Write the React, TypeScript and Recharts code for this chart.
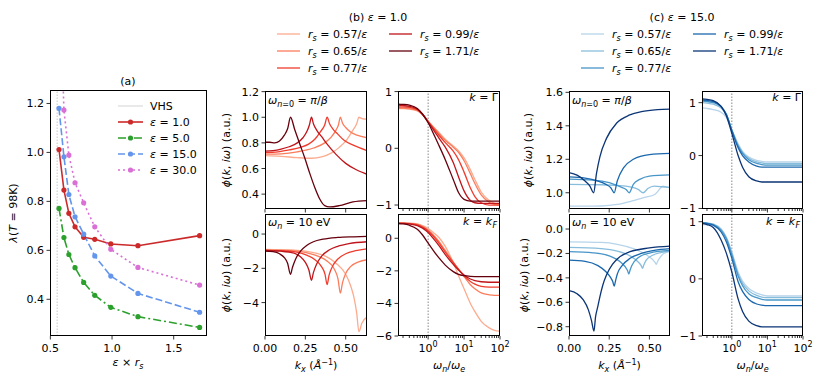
import React from 'react';
import { LineChart, Line, XAxis, YAxis, ReferenceLine } from 'recharts';

const FONT = '"DejaVu Sans", Verdana, sans-serif';
const FS = 11;
const YW = 40;
const XH = 24;
const MT = 8;
const MR = 14;

// ---- panel (a): lambda(T=98K) vs eps*rs
const epsRs = [0.57, 0.61, 0.65, 0.7, 0.77, 0.86, 0.99, 1.21, 1.71];
const lamEps1 = [1.012, 0.846, 0.751, 0.696, 0.653, 0.645, 0.626, 0.619, 0.66];
const lamEps5 = [0.771, 0.652, 0.583, 0.529, 0.469, 0.416, 0.367, 0.329, 0.285];
const lamEps15 = [1.18, 0.982, 0.828, 0.737, 0.666, 0.577, 0.495, 0.424, 0.347];
const lamEps30 = [1.8, 1.173, 0.989, 0.876, 0.794, 0.696, 0.604, 0.53, 0.458];
const vhs = 0.555;

const rsLabels = ['0.57', '0.65', '0.77', '0.99', '1.71'];
const reds = ['#fcab8f', '#fb7c5c', '#ef3c2d', '#bf151b', '#67000d'];
const blues = ['#b7d4ea', '#88bedc', '#4896c8', '#1b68ae', '#0b3576'];

type Pt = [number, number];

// ---- (b) eps = 1.0, phi vs kx at omega_{n=0}
const b1_057: Pt[] = [[0, 0.7], [0.1, 0.695], [0.2, 0.685], [0.29, 0.68], [0.35, 0.69], [0.41, 0.72], [0.46, 0.765], [0.51, 0.83], [0.545, 0.9], [0.568, 0.95], [0.582, 1.0], [0.6, 0.99], [0.632, 0.985]];
const b1_065: Pt[] = [[0, 0.712], [0.1, 0.715], [0.2, 0.73], [0.3, 0.76], [0.37, 0.8], [0.41, 0.845], [0.44, 0.9], [0.455, 0.94], [0.467, 1.0], [0.48, 0.955], [0.5, 0.92], [0.53, 0.885], [0.57, 0.86], [0.632, 0.84]];
const b1_077: Pt[] = [[0, 0.725], [0.08, 0.73], [0.15, 0.745], [0.22, 0.765], [0.27, 0.79], [0.31, 0.83], [0.345, 0.89], [0.37, 0.94], [0.385, 1.0], [0.4, 0.95], [0.42, 0.91], [0.45, 0.87], [0.49, 0.82], [0.55, 0.78], [0.632, 0.74]];
const b1_099: Pt[] = [[0, 0.735], [0.05, 0.74], [0.1, 0.752], [0.15, 0.77], [0.2, 0.8], [0.235, 0.84], [0.26, 0.89], [0.275, 0.94], [0.288, 1.0], [0.3, 0.95], [0.32, 0.9], [0.35, 0.85], [0.385, 0.79], [0.44, 0.71], [0.5, 0.64], [0.566, 0.59], [0.632, 0.555]];
const b1_171: Pt[] = [[0, 0.805], [0.03, 0.805], [0.06, 0.8], [0.09, 0.815], [0.12, 0.86], [0.14, 0.91], [0.158, 1.0], [0.185, 0.9], [0.216, 0.79], [0.247, 0.68], [0.278, 0.56], [0.309, 0.45], [0.34, 0.36], [0.37, 0.31], [0.4, 0.3], [0.46, 0.31], [0.545, 0.34], [0.632, 0.35]];

// ---- (b) phi vs kx at omega_n = 10 eV
const b3_057: Pt[] = [[0, -0.9], [0.2, -0.95], [0.3, -1.08], [0.38, -1.32], [0.44, -1.7], [0.5, -2.35], [0.53, -3.0], [0.55, -3.65], [0.568, -4.6], [0.582, -5.7], [0.6, -5.2], [0.632, -4.85]];
const b3_065: Pt[] = [[0, -0.93], [0.2, -1.0], [0.3, -1.2], [0.38, -1.55], [0.43, -2.05], [0.452, -2.6], [0.467, -3.45], [0.48, -2.85], [0.5, -2.3], [0.53, -1.9], [0.58, -1.62], [0.632, -1.5]];
const b3_077: Pt[] = [[0, -0.95], [0.15, -1.0], [0.25, -1.2], [0.31, -1.5], [0.35, -1.9], [0.372, -2.35], [0.385, -2.95], [0.397, -2.4], [0.42, -1.85], [0.45, -1.47], [0.5, -1.15], [0.56, -0.97], [0.632, -0.86]];
const b3_099: Pt[] = [[0, -0.96], [0.1, -1.0], [0.18, -1.12], [0.22, -1.33], [0.25, -1.65], [0.272, -2.1], [0.288, -2.7], [0.3, -2.25], [0.32, -1.75], [0.35, -1.3], [0.4, -0.92], [0.45, -0.72], [0.52, -0.56], [0.632, -0.45]];
const b3_171: Pt[] = [[0, -1.0], [0.05, -1.03], [0.09, -1.15], [0.12, -1.38], [0.14, -1.7], [0.158, -2.35], [0.17, -1.95], [0.19, -1.45], [0.22, -1.0], [0.26, -0.65], [0.3, -0.45], [0.36, -0.3], [0.45, -0.2], [0.55, -0.16], [0.632, -0.14]];

// ---- frequency grid (omega_n / omega_e) shared by the right columns
const omega = [0.145, 0.2, 0.3, 0.5, 0.7, 1, 1.5, 2, 3, 5, 7, 10, 15, 20, 30, 50, 70, 100];

const b2_057 = [0.7, 0.7, 0.69, 0.66, 0.59, 0.48, 0.36, 0.28, 0.16, 0.04, -0.04, -0.17, -0.38, -0.55, -0.77, -0.92, -0.97, -0.99];
const b2_065 = [0.71, 0.71, 0.7, 0.67, 0.6, 0.48, 0.35, 0.26, 0.14, 0.02, -0.07, -0.22, -0.45, -0.62, -0.82, -0.95, -0.99, -1.0];
const b2_077 = [0.73, 0.73, 0.72, 0.68, 0.6, 0.47, 0.33, 0.23, 0.1, -0.05, -0.2, -0.42, -0.7, -0.85, -0.96, -1.0, -1.0, -1.0];
const b2_099 = [0.76, 0.755, 0.74, 0.69, 0.6, 0.46, 0.3, 0.18, 0.02, -0.25, -0.5, -0.75, -0.92, -0.96, -0.97, -0.97, -0.97, -0.97];
const b2_171 = [0.78, 0.775, 0.76, 0.7, 0.6, 0.45, 0.22, 0.05, -0.2, -0.55, -0.78, -0.9, -0.93, -0.93, -0.93, -0.93, -0.93, -0.93];

const b4_057 = [0.95, 0.94, 0.93, 0.88, 0.78, 0.6, 0.3, 0.05, -0.5, -1.5, -2.3, -3.1, -4.0, -4.5, -5.1, -5.5, -5.65, -5.7];
const b4_065 = [0.94, 0.93, 0.91, 0.85, 0.72, 0.5, 0.12, -0.2, -0.75, -1.45, -1.9, -2.35, -2.85, -3.1, -3.35, -3.47, -3.5, -3.5];
const b4_077 = [0.93, 0.92, 0.9, 0.82, 0.68, 0.45, 0.05, -0.3, -0.85, -1.5, -1.9, -2.3, -2.65, -2.82, -2.95, -3.0, -3.0, -3.0];
const b4_099 = [0.92, 0.91, 0.88, 0.78, 0.62, 0.35, -0.1, -0.45, -1.0, -1.6, -1.95, -2.25, -2.5, -2.6, -2.67, -2.7, -2.7, -2.7];
const b4_171 = [0.9, 0.88, 0.8, 0.55, 0.2, -0.3, -0.85, -1.2, -1.65, -2.05, -2.22, -2.3, -2.34, -2.35, -2.35, -2.35, -2.35, -2.35];

// ---- (c) eps = 15.0
const c1_057: Pt[] = [[0, 0.92], [0.1, 0.92], [0.2, 0.921], [0.3, 0.93], [0.4, 0.953], [0.47, 0.972], [0.533, 0.99], [0.55, 1.005], [0.57, 1.03], [0.585, 1.04], [0.605, 1.035], [0.632, 1.03]];
const c1_065: Pt[] = [[0, 1.05], [0.2, 1.048], [0.3, 1.044], [0.38, 1.035], [0.43, 1.02], [0.461, 1.0], [0.49, 1.025], [0.53, 1.04], [0.58, 1.036], [0.632, 1.03]];
const c1_077: Pt[] = [[0, 1.082], [0.15, 1.076], [0.25, 1.06], [0.32, 1.035], [0.355, 1.02], [0.374, 1.0], [0.4, 1.05], [0.44, 1.08], [0.5, 1.1], [0.632, 1.107]];
const c1_099: Pt[] = [[0, 1.095], [0.1, 1.088], [0.18, 1.07], [0.23, 1.05], [0.26, 1.03], [0.281, 1.0], [0.3, 1.07], [0.34, 1.15], [0.4, 1.2], [0.5, 1.228], [0.632, 1.235]];
const c1_171: Pt[] = [[0, 1.12], [0.05, 1.105], [0.1, 1.07], [0.13, 1.04], [0.153, 1.0], [0.171, 1.116], [0.192, 1.215], [0.233, 1.325], [0.295, 1.415], [0.378, 1.465], [0.45, 1.485], [0.55, 1.497], [0.632, 1.5]];

const c3_057: Pt[] = [[0, -0.105], [0.2, -0.11], [0.3, -0.125], [0.4, -0.16], [0.48, -0.21], [0.52, -0.25], [0.536, -0.275], [0.543, -0.29], [0.55, -0.268], [0.565, -0.235], [0.59, -0.2], [0.632, -0.185]];
const c3_065: Pt[] = [[0, -0.15], [0.2, -0.16], [0.3, -0.18], [0.38, -0.22], [0.43, -0.27], [0.449, -0.3], [0.457, -0.322], [0.465, -0.295], [0.48, -0.255], [0.52, -0.215], [0.57, -0.193], [0.632, -0.18]];
const c3_077: Pt[] = [[0, -0.185], [0.15, -0.195], [0.25, -0.22], [0.32, -0.27], [0.35, -0.31], [0.364, -0.34], [0.372, -0.369], [0.38, -0.335], [0.39, -0.3], [0.43, -0.235], [0.5, -0.197], [0.632, -0.175]];
const c3_099: Pt[] = [[0, -0.255], [0.1, -0.265], [0.18, -0.3], [0.23, -0.35], [0.26, -0.4], [0.272, -0.43], [0.281, -0.467], [0.29, -0.42], [0.3, -0.37], [0.33, -0.3], [0.38, -0.24], [0.45, -0.2], [0.53, -0.175], [0.632, -0.16]];
const c3_171: Pt[] = [[0, -0.505], [0.05, -0.53], [0.089, -0.58], [0.12, -0.66], [0.14, -0.75], [0.155, -0.836], [0.165, -0.72], [0.18, -0.63], [0.192, -0.555], [0.21, -0.46], [0.233, -0.377], [0.27, -0.29], [0.3, -0.245], [0.38, -0.185], [0.5, -0.155], [0.632, -0.14]];

const c2_057 = [0.9, 0.89, 0.87, 0.82, 0.72, 0.48, 0.22, 0.08, -0.03, -0.09, -0.11, -0.12, -0.12, -0.12, -0.12, -0.12, -0.12, -0.12];
const c2_065 = [1.0, 0.99, 0.97, 0.9, 0.77, 0.49, 0.2, 0.06, -0.05, -0.12, -0.14, -0.15, -0.15, -0.15, -0.15, -0.15, -0.15, -0.15];
const c2_077 = [1.03, 1.02, 1.0, 0.92, 0.78, 0.48, 0.18, 0.04, -0.08, -0.15, -0.17, -0.18, -0.18, -0.18, -0.18, -0.18, -0.18, -0.18];
const c2_099 = [1.05, 1.04, 1.02, 0.93, 0.78, 0.47, 0.15, 0.0, -0.12, -0.2, -0.22, -0.22, -0.22, -0.22, -0.22, -0.22, -0.22, -0.22];
const c2_171 = [1.07, 1.06, 1.04, 0.93, 0.75, 0.42, 0.0, -0.22, -0.4, -0.48, -0.5, -0.5, -0.5, -0.5, -0.5, -0.5, -0.5, -0.5];

const c4_057 = [0.95, 0.95, 0.94, 0.87, 0.73, 0.47, 0.12, -0.04, -0.17, -0.25, -0.28, -0.3, -0.3, -0.3, -0.3, -0.3, -0.3, -0.3];
const c4_065 = [0.99, 0.98, 0.96, 0.87, 0.72, 0.45, 0.09, -0.08, -0.21, -0.29, -0.32, -0.33, -0.33, -0.33, -0.33, -0.33, -0.33, -0.33];
const c4_077 = [0.98, 0.97, 0.95, 0.85, 0.7, 0.42, 0.05, -0.12, -0.26, -0.33, -0.36, -0.37, -0.37, -0.37, -0.37, -0.37, -0.37, -0.37];
const c4_099 = [0.98, 0.97, 0.94, 0.82, 0.65, 0.36, -0.05, -0.22, -0.36, -0.44, -0.46, -0.47, -0.47, -0.47, -0.47, -0.47, -0.47, -0.47];
const c4_171 = [0.97, 0.95, 0.9, 0.68, 0.45, 0.12, -0.35, -0.57, -0.74, -0.82, -0.84, -0.84, -0.84, -0.84, -0.84, -0.84, -0.84, -0.84];

const logMajor = [1, 10, 100];
const logTicks = [0.2, 0.3, 0.4, 0.5, 0.6, 0.7, 0.8, 0.9, 1, 2, 3, 4, 5, 6, 7, 8, 9, 10, 20, 30, 40, 50, 60, 70, 80, 90, 100];
const kxTicks = [0, 0.25, 0.5];

const pairs = (pts: Pt[]) => pts.map(([x, y]) => ({ x, y }));
const onGrid = (xs: number[], ys: number[]) => xs.map((x, i) => ({ x, y: ys[i] }));
const minus = (s: string) => s.replace('-', '\u2212');

interface Series {
  pts: { x: number; y: number }[];
  color: string;
  width: number;
  dash?: string;
  dots?: boolean;
  linear?: boolean;
}

interface PanelProps {
  box: [number, number, number, number];
  xDomain: [number, number];
  yDomain: [number, number];
  xTicks: number[];
  yTicks: number[];
  log?: boolean;
  showX?: boolean;
  xFmt?: (v: number) => React.ReactNode;
  yFmt: (v: number) => string;
  series: Series[];
  refX?: number;
  refColor?: string;
}

function Panel({ box, xDomain, yDomain, xTicks, yTicks, log, showX, xFmt, yFmt, series, refX, refColor }: PanelProps) {
  const [l, t, r, b] = box;
  const w = r - l;
  const h = b - t;
  const bottom = MT + h; // plot bottom in chart coordinates

  const xTick = (props: any) => {
    const v = props.payload.value as number;
    const cx = props.payload.coordinate ?? props.x;
    const major = !log || logMajor.includes(v);
    const len = major ? 3.5 : 2;
    return (
      <g>
        <line x1={cx} x2={cx} y1={bottom} y2={bottom + len} stroke="#000" strokeWidth={0.8} />
        {showX && major && xFmt && (
          <text x={cx} y={bottom + 15.5} textAnchor="middle" fontSize={FS} fontFamily={FONT} fill="#000">
            {xFmt(v)}
          </text>
        )}
      </g>
    );
  };

  const yTick = (props: any) => {
    const v = props.payload.value as number;
    const cy = props.payload.coordinate ?? props.y;
    return (
      <g>
        <line x1={YW - 3.5} x2={YW} y1={cy} y2={cy} stroke="#000" strokeWidth={0.8} />
        <text x={YW - 6} y={cy + 4} textAnchor="end" fontSize={FS} fontFamily={FONT} fill="#000">
          {yFmt(v)}
        </text>
      </g>
    );
  };

  return (
    <>
      <div style={{ position: 'absolute', left: l - YW, top: t - MT }}>
        <LineChart width={w + YW + MR} height={h + XH + MT} margin={{ top: MT, right: MR, bottom: 0, left: 0 }}>
          <XAxis
            dataKey="x"
            type="number"
            scale={log ? 'log' : 'linear'}
            domain={xDomain}
            allowDataOverflow
            ticks={xTicks}
            interval={0}
            height={XH}
            axisLine={false}
            tickLine={false}
            tickSize={0}
            tickMargin={0}
            tick={xTick}
          />
          <YAxis
            type="number"
            domain={yDomain}
            allowDataOverflow
            ticks={yTicks}
            interval={0}
            width={YW}
            axisLine={false}
            tickLine={false}
            tickSize={0}
            tickMargin={0}
            tick={yTick}
          />
          {refX !== undefined && (
            <ReferenceLine x={refX} stroke={refColor ?? '#888'} strokeWidth={1} strokeDasharray="1.5 1.5" />
          )}
          {series.map((s, i) => (
            <Line
              key={i}
              data={s.pts}
              dataKey="y"
              type={s.linear ? 'linear' : 'monotone'}
              stroke={s.color}
              strokeWidth={s.width}
              strokeDasharray={s.dash}
              dot={s.dots ? { r: 2.6, fill: s.color, stroke: 'none', strokeDasharray: '0' } : false}
              activeDot={false}
              isAnimationActive={false}
            />
          ))}
        </LineChart>
      </div>
      <div
        style={{
          position: 'absolute',
          left: l,
          top: t,
          width: w,
          height: h,
          boxSizing: 'border-box',
          border: '1px solid #000',
          pointerEvents: 'none',
        }}
      />
    </>
  );
}

const fix1 = (v: number) => minus(v.toFixed(1));
const fix2 = (v: number) => minus(v.toFixed(2));
const intFmt = (v: number) => minus(String(v));
const powFmt = (v: number) => (
  <>
    <tspan>10</tspan>
    <tspan dy={-5} fontSize={8}>{Math.round(Math.log10(v))}</tspan>
  </>
);

const kxSeries = (list: Pt[][], colors: string[]): Series[] =>
  list.map((pts, i) => ({ pts: pairs(pts), color: colors[i], width: 1.3 }));
const wSeries = (list: number[][], colors: string[]): Series[] =>
  list.map((ys, i) => ({ pts: onGrid(omega, ys), color: colors[i], width: 1.3 }));

const aSeries = [
  { label: '1.0', vals: lamEps1, color: '#cc2a2a', dash: undefined as string | undefined },
  { label: '5.0', vals: lamEps5, color: '#2ca02c', dash: '8 3 2 3' },
  { label: '15.0', vals: lamEps15, color: '#6495ed', dash: '7 3' },
  { label: '30.0', vals: lamEps30, color: '#da70d6', dash: '2 3' },
];

const It = ({ children }: { children: React.ReactNode }) => <tspan fontStyle="italic">{children}</tspan>;

const PhiLabel = ({ x, y }: { x: number; y: number }) => (
  <text transform={`translate(${x},${y}) rotate(-90)`} textAnchor="middle">
    <It>ϕ</It>(<It>k</It>, <It>iω</It>) (a.u.)
  </text>
);

function RsLegend({ colors, x1, x2 }: { colors: string[]; x1: number; x2: number }) {
  const rowsY = [34, 51, 68];
  return (
    <g>
      {rsLabels.map((lab, i) => {
        const col = i < 3 ? 0 : 1;
        const y = rowsY[col === 0 ? i : i - 3];
        const lx = col === 0 ? x1 : x2;
        return (
          <g key={lab}>
            <line x1={lx} x2={lx + 23} y1={y} y2={y} stroke={colors[i]} strokeWidth={1.3} />
            <text x={lx + 31} y={y + 4}>
              <It>r</It>
              <tspan dy={2.5} fontSize={8} fontStyle="italic">s</tspan>
              <tspan dy={-2.5}> = {lab}/</tspan>
              <It>ε</It>
            </text>
          </g>
        );
      })}
    </g>
  );
}

export default function App() {
  const A: [number, number, number, number] = [50, 90, 207, 336];
  const aLines: Series[] = aSeries.map((s) => ({
    pts: onGrid(epsRs, s.vals),
    color: s.color,
    width: 1.6,
    dash: s.dash,
    dots: true,
    linear: true,
  }));

  return (
    <div
      style={{
        position: 'absolute',
        left: 0,
        top: 0,
        width: 822,
        height: 381,
        background: '#fff',
        overflow: 'hidden',
        fontFamily: FONT,
      }}
    >
      <Panel
        box={A}
        xDomain={[0.497, 1.77]}
        yDomain={[0.25, 1.255]}
        xTicks={[0.5, 1.0, 1.5]}
        yTicks={[0.4, 0.6, 0.8, 1.0, 1.2]}
        showX
        xFmt={fix1}
        yFmt={fix1}
        series={aLines}
        refX={vhs}
        refColor="#c8c8c8"
      />
      <Panel
        box={[265, 91, 367, 209]}
        xDomain={[0, 0.632]}
        yDomain={[0.284, 1.205]}
        xTicks={kxTicks}
        yTicks={[0.4, 0.6, 0.8, 1.0, 1.2]}
        yFmt={fix1}
        series={kxSeries([b1_057, b1_065, b1_077, b1_099, b1_171], reds)}
      />
      <Panel
        box={[265, 214, 367, 336]}
        xDomain={[0, 0.632]}
        yDomain={[-5.95, 1.17]}
        xTicks={kxTicks}
        yTicks={[-4, -2, 0]}
        showX
        xFmt={fix2}
        yFmt={intFmt}
        series={kxSeries([b3_057, b3_065, b3_077, b3_099, b3_171], reds)}
      />
      <Panel
        box={[398, 91, 500, 209]}
        xDomain={[0.145, 100]}
        yDomain={[-1.07, 1.01]}
        xTicks={logTicks}
        yTicks={[-1, 0, 1]}
        log
        yFmt={intFmt}
        series={wSeries([b2_057, b2_065, b2_077, b2_099, b2_171], reds)}
        refX={1}
      />
      <Panel
        box={[398, 214, 500, 336]}
        xDomain={[0.145, 100]}
        yDomain={[-6, 1.49]}
        xTicks={logTicks}
        yTicks={[-6, -4, -2, 0]}
        log
        showX
        xFmt={powFmt}
        yFmt={intFmt}
        series={wSeries([b4_057, b4_065, b4_077, b4_099, b4_171], reds)}
        refX={1}
      />
      <Panel
        box={[569, 91, 670, 209]}
        xDomain={[0, 0.628]}
        yDomain={[0.903, 1.608]}
        xTicks={kxTicks}
        yTicks={[1.0, 1.2, 1.4, 1.6]}
        yFmt={fix1}
        series={kxSeries([c1_057, c1_065, c1_077, c1_099, c1_171], blues)}
      />
      <Panel
        box={[569, 214, 670, 336]}
        xDomain={[0, 0.628]}
        yDomain={[-0.876, 0.123]}
        xTicks={kxTicks}
        yTicks={[-0.8, -0.6, -0.4, -0.2, 0.0]}
        showX
        xFmt={fix2}
        yFmt={fix1}
        series={kxSeries([c3_057, c3_065, c3_077, c3_099, c3_171], blues)}
      />
      <Panel
        box={[702, 91, 803, 209]}
        xDomain={[0.145, 100]}
        yDomain={[-1.01, 1.22]}
        xTicks={logTicks}
        yTicks={[-1, 0, 1]}
        log
        yFmt={intFmt}
        series={wSeries([c2_057, c2_065, c2_077, c2_099, c2_171], blues)}
        refX={1}
      />
      <Panel
        box={[702, 214, 803, 336]}
        xDomain={[0.145, 100]}
        yDomain={[-1.0, 1.135]}
        xTicks={logTicks}
        yTicks={[-1, 0, 1]}
        log
        showX
        xFmt={powFmt}
        yFmt={intFmt}
        series={wSeries([c4_057, c4_065, c4_077, c4_099, c4_171], blues)}
        refX={1}
      />

      <svg
        width={822}
        height={381}
        style={{ position: 'absolute', left: 0, top: 0, pointerEvents: 'none' }}
        fontFamily={FONT}
        fontSize={FS}
        fill="#000"
      >
        {/* titles */}
        <text x={128} y={85} textAnchor="middle">(a)</text>
        <text x={378} y={21} textAnchor="middle">
          (b) <It>ε</It> = 1.0
        </text>
        <text x={682} y={21} textAnchor="middle">
          (c) <It>ε</It> = 15.0
        </text>

        {/* panel (a) axis labels */}
        <text transform="translate(17,213) rotate(-90)" textAnchor="middle">
          <It>λ</It>(<It>T</It> = 98K)
        </text>
        <text x={128} y={366} textAnchor="middle">
          <It>ε</It> × <It>r</It>
          <tspan dy={2.5} fontSize={8} fontStyle="italic">s</tspan>
        </text>

        {/* panel (a) legend */}
        <line x1={118} x2={143} y1={106} y2={106} stroke="#d3d3d3" strokeWidth={1} />
        <text x={150} y={110}>VHS</text>
        {aSeries.map((s, i) => {
          const y = 122 + i * 16;
          return (
            <g key={s.label}>
              <line x1={118} x2={143} y1={y} y2={y} stroke={s.color} strokeWidth={1.6} strokeDasharray={s.dash} />
              <circle cx={130.5} cy={y} r={2.6} fill={s.color} />
              <text x={150} y={y + 4}>
                <It>ε</It> = {s.label}
              </text>
            </g>
          );
        })}

        {/* legends (b), (c) */}
        <RsLegend colors={reds} x1={277} x2={389} />
        <RsLegend colors={blues} x1={581} x2={693} />

        {/* y labels */}
        <PhiLabel x={230} y={150} />
        <PhiLabel x={230} y={275} />
        <PhiLabel x={532} y={150} />
        <PhiLabel x={528} y={275} />

        {/* x labels */}
        {[316, 619.5].map((cx) => (
          <text key={cx} x={cx} y={369} textAnchor="middle">
            <It>k</It>
            <tspan dy={2.5} fontSize={8} fontStyle="italic">x</tspan>
            <tspan dy={-2.5}> (</tspan>
            <It>Å</It>
            <tspan dy={-4.5} fontSize={8}>−1</tspan>
            <tspan dy={4.5}>)</tspan>
          </text>
        ))}
        {[449, 752.5].map((cx) => (
          <text key={cx} x={cx} y={369} textAnchor="middle">
            <It>ω</It>
            <tspan dy={2.5} fontSize={8} fontStyle="italic">n</tspan>
            <tspan dy={-2.5}>/</tspan>
            <It>ω</It>
            <tspan dy={2.5} fontSize={8} fontStyle="italic">e</tspan>
          </text>
        ))}

        {/* annotations inside panels */}
        {[268, 572].map((x) => (
          <g key={x}>
            <text x={x} y={104}>
              <It>ω</It>
              <tspan dy={2.5} fontSize={8}>
                <It>n</It>=0
              </tspan>
              <tspan dy={-2.5}> = </tspan>
              <It>π</It>/<It>β</It>
            </text>
            <text x={x} y={226}>
              <It>ω</It>
              <tspan dy={2.5} fontSize={8} fontStyle="italic">n</tspan>
              <tspan dy={-2.5}> = 10 eV</tspan>
            </text>
          </g>
        ))}
        {[498, 801].map((x) => (
          <g key={x}>
            <text x={x} y={101} textAnchor="end">
              <It>k</It> = Γ
            </text>
            <text x={x - 6} y={225} textAnchor="end">
              <It>k</It> = <It>k</It>
            </text>
            <text x={x - 5.5} y={227.5} fontSize={8} fontStyle="italic">F</text>
          </g>
        ))}
      </svg>
    </div>
  );
}
